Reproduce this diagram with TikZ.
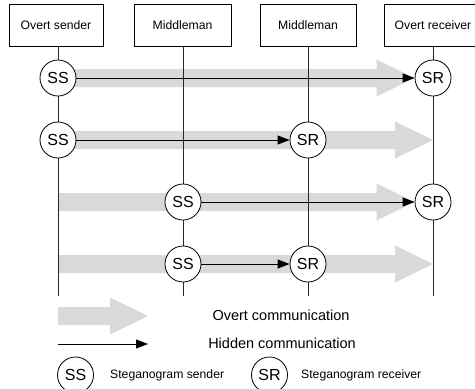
\documentclass[tikz,border=0pt]{standalone}
\usepackage{fontspec}
\setmainfont{Liberation Sans}
\usetikzlibrary{arrows.meta,calc,backgrounds}

% grey band with a broad head, tail at #1, tip at #2
\newcommand{\overt}[2]{%
  \fill[overt] ($(#1)+(0,-9)$) -- ($(#2)+(-38,-9)$) -- ($(#2)+(-38,-18.5)$) -- (#2)
    -- ($(#2)+(-38,18.5)$) -- ($(#2)+(-38,9)$) -- ($(#1)+(0,9)$) -- cycle;}

\begin{document}
\begin{tikzpicture}[x=1pt, y=-1pt, >={Triangle[length=12pt,width=9pt]}]
	\tikzstyle{party} = [draw, line width=0.8pt, minimum height=42pt, inner sep=0pt, font=\fontsize{12.2}{14}\selectfont]
	\tikzstyle{steg} = [draw, fill=white, circle, line width=0.8pt, minimum size=36pt, inner sep=0pt, font=\fontsize{16}{18}\selectfont]
	\tikzstyle{overt} = [fill=black!15]
	\tikzstyle{life} = [line width=0.8pt, black!85]
	\tikzstyle{hidden} = [->, line width=1pt]
	\tikzstyle{legend} = [inner sep=0pt, font=\fontsize{14.5}{16}\selectfont]
	\tikzstyle{note} = [inner sep=0pt, anchor=west, font=\fontsize{12.2}{14}\selectfont]

	\useasboundingbox (0,0) rectangle (475,389);

	% parties
	\node[party, minimum width=94pt] (s) at (56,25) {Overt sender};
	\node[party, minimum width=97pt] (m1) at (182.5,25) {Middleman};
	\node[party, minimum width=96pt] (m2) at (308,25) {Middleman};
	\node[party, minimum width=98pt] (r) at (433,25) {Overt receiver};
	\coordinate (bot) at (0,296);

	% senders and receivers
	\node[steg] (ss1) at (58,78) {SS};
	\node[steg] (sr1) at (433,78) {SR};
	\node[steg] (ss2) at (58,140) {SS};
	\node[steg] (sr2) at (308,140) {SR};
	\node[steg] (ss3) at (183,202) {SS};
	\node[steg] (sr3) at (433,202) {SR};
	\node[steg] (ss4) at (183,264) {SS};
	\node[steg] (sr4) at (308,264) {SR};

	\coordinate (e2) at (sr1 |- ss2);
	\coordinate (b3) at (ss1 |- ss3);
	\coordinate (b4) at (ss1 |- ss4);
	\coordinate (e4) at (sr1 |- ss4);

	\begin{pgfonlayer}{background}
		\overt{ss1.center}{sr1.west}
		\overt{ss2.center}{e2}
		\overt{b3}{sr3.west}
		\overt{b4}{e4}
		\foreach \n in {ss1,ss3,sr2,sr1}
			\draw[life] (\n |- s.south) -- (\n |- bot);
	\end{pgfonlayer}

	\path[hidden]
	(ss1) edge (sr1)
	(ss2) edge (sr2)
	(ss3) edge (sr3)
	(ss4) edge (sr4);

	% legend
	\coordinate (la) at (58,316);
	\coordinate (lb) at (148,316);
	\overt{la}{lb}
	\node[legend] (ovt) at (281,315) {Overt communication};
	\coordinate (ha) at (58,344);
	\coordinate (hb) at (148,344);
	\draw[hidden] (ha) -- (hb);
	\node[legend] (hid) at (282,343) {Hidden communication};
	\node[steg] (kss) at (75.5,375) {SS};
	\node[note] (kssl) at (110,375) {Steganogram sender};
	\node[steg] (ksr) at (269.5,375) {SR};
	\node[note] (ksrl) at (301,375) {Steganogram receiver};
\end{tikzpicture}
\end{document}
